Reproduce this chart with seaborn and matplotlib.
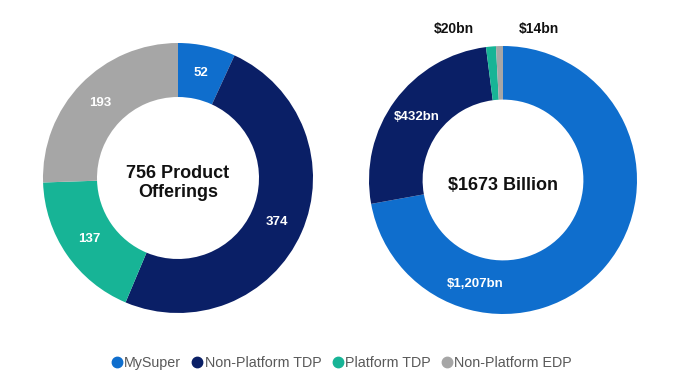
import matplotlib
matplotlib.use("Agg")
import matplotlib.pyplot as plt
import seaborn as sns
import numpy as np
from matplotlib.lines import Line2D

categories = ["MySuper", "Non-Platform TDP", "Platform TDP", "Non-Platform EDP"]
offerings = [52, 374, 137, 193]
offering_labels = ["52", "374", "137", "193"]
assets_bn = [1207, 432, 20, 14]
asset_labels = ["$1,207bn", "$432bn", "$20bn", "$14bn"]
left_title = "756 Product\nOfferings"
right_title = "$1673 Billion"

sns.set_theme(style="white")
plt.rcParams["font.family"] = ["Liberation Sans", "DejaVu Sans"]
colors = sns.color_palette(["#0F6ECD", "#0A1F66", "#17B496", "#A6A6A6"])

fig = plt.figure(figsize=(6.8, 3.88), dpi=100)
W, H = 680, 388


def donut_axes(cx, cy, r):
    ax = fig.add_axes([(cx - r) / W, (H - cy - r) / H, 2 * r / W, 2 * r / H])
    return ax


def draw_donut(ax, values, labels, center_text, outside=(), angle_override=None):
    angle_override = angle_override or {}
    wedges, _ = ax.pie(values, colors=colors, startangle=90, counterclock=False,
                       radius=1.0, wedgeprops=dict(width=0.4, linewidth=0))
    ax.set_xlim(-1, 1)
    ax.set_ylim(-1, 1)
    ax.set_aspect("equal")
    ax.axis("off")
    for i, (w, lab) in enumerate(zip(wedges, labels)):
        if i in outside:
            continue
        ang = np.deg2rad(angle_override.get(i, (w.theta1 + w.theta2) / 2))
        ax.text(0.8 * np.cos(ang), 0.8 * np.sin(ang), lab, ha="center", va="center",
                color="white", fontsize=9.5, fontweight="bold")
    ax.text(0, -0.04, center_text, ha="center", va="center", fontsize=13,
            fontweight="bold", color="#111111", linespacing=1.15)
    return wedges


ax1 = donut_axes(178, 178, 135)
draw_donut(ax1, offerings, offering_labels, left_title)

ax2 = donut_axes(503, 180, 134)
draw_donut(ax2, assets_bn, asset_labels, right_title, outside=(2, 3),
           angle_override={0: -105})
# small slices labelled above the ring
ax2.text(-0.37, 1.13, asset_labels[2], ha="center", va="center", fontsize=10,
         fontweight="bold", color="#111111", clip_on=False)
ax2.text(0.27, 1.13, asset_labels[3], ha="center", va="center", fontsize=10,
         fontweight="bold", color="#111111", clip_on=False)

handles = [Line2D([0], [0], marker="o", linestyle="", markersize=7.5,
                  markerfacecolor=c, markeredgecolor=c) for c in colors]
leg = fig.legend(handles, categories, loc="center", bbox_to_anchor=(340 / W, 1 - 363 / H),
                 ncol=4, frameon=False, fontsize=10.3, handletextpad=-0.1,
                 columnspacing=0.55, handlelength=1.2)
for t in leg.get_texts():
    t.set_color("#595959")

fig.savefig("out.png", dpi=100, facecolor="white")
